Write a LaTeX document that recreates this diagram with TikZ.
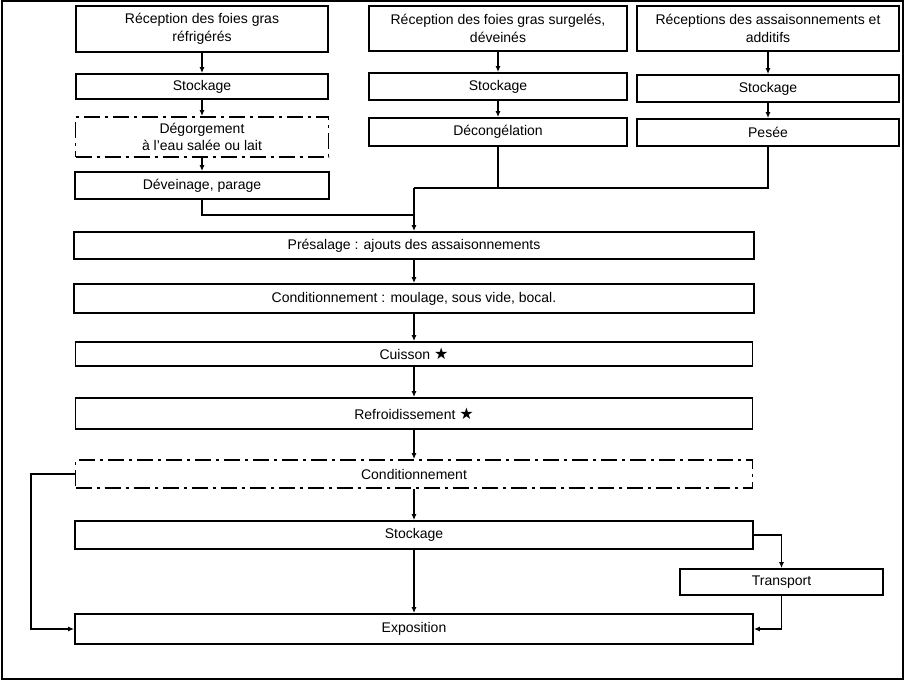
\documentclass[tikz,border=0pt]{standalone}
\usepackage{fontspec}
\setmainfont{Liberation Sans}
\newfontfamily\symfont{DejaVu Sans}
\usetikzlibrary{arrows.meta, positioning}

\begin{document}
\begin{tikzpicture}[
    x=1pt, y=-1pt,
    every node/.style={font=\fontsize{14}{17.5}\selectfont},
    etape/.style={draw, line width=1.8pt, inner sep=0pt, align=center},
    option/.style={etape, dash pattern=on 16pt off 5pt on 3pt off 5pt},
    fleche/.style={-{Latex[length=6pt,width=5pt]}, line width=1.4pt},
    trait/.style={line width=1.4pt}
]
\useasboundingbox (0,0) rectangle (908,682);
\draw[line width=2pt] (1.5,1.5) rectangle (903,678.5);

% three reception columns
\node[etape, minimum width=252pt, minimum height=46pt] (recA) at (202,29) {Réception des foies gras\\réfrigérés};
\node[etape, minimum width=258pt, minimum height=45pt] (recB) at (498,28.5) {Réception des foies gras surgelés,\\déveinés};
\node[etape, minimum width=262pt, minimum height=45pt] (recC) at (768,28.5) {Réceptions des assaisonnements et\\additifs};

\node[etape, minimum width=252pt, minimum height=25pt] (stockA) at (202,86.5) {Stockage};
\node[etape, minimum width=258pt, minimum height=27pt] (stockB) at (498,86.5) {Stockage};
\node[etape, minimum width=262pt, minimum height=27pt] (stockC) at (768,88.5) {Stockage};

\node[option, minimum width=253pt, minimum height=40pt] (degorg) at (202,137) {Dégorgement\\à l’eau salée ou lait};
\node[etape, minimum width=258pt, minimum height=28pt] (decong) at (498,132) {Décongélation};
\node[etape, minimum width=262pt, minimum height=27pt] (pesee) at (768,132.5) {Pesée};
\node[etape, minimum width=254pt, minimum height=27pt] (devein) at (202,185.5) {\raisebox{3pt}{Déveinage, parage}};

% main line
\node[etape, minimum width=680pt, minimum height=27pt] (presal) at (414,245.5) {Présalage : ajouts des assaisonnements};
\node[etape, minimum width=680pt, minimum height=29pt] (condA) at (414,298.5) {Conditionnement : moulage, sous vide, bocal.};
\node[etape, minimum width=677pt, minimum height=24pt] (cuisson) at (414,354) {Cuisson {\symfont\fontsize{16}{16}\selectfont ★}};
\node[etape, minimum width=677pt, minimum height=31pt] (refroid) at (414,413.5) {Refroidissement {\symfont\fontsize{16}{16}\selectfont ★}};
\node[option, minimum width=677pt, minimum height=28pt] (condB) at (414,474) {Conditionnement};
\node[etape, minimum width=678pt, minimum height=28pt] (stockD) at (414,535) {Stockage};
\node[etape, minimum width=203pt, minimum height=26pt] (transp) at (781.5,582) {Transport};
\node[etape, minimum width=678pt, minimum height=30pt] (expo) at (414,629) {Exposition};

\coordinate (j1) at (414,188);
\coordinate (j2) at (414,215);
\coordinate (retour) at (31,474);

\draw[fleche] (recA) -- (stockA);
\draw[fleche] (stockA) -- (degorg);
\draw[fleche] (degorg) -- (devein);
\draw[fleche] (recB) -- (stockB);
\draw[fleche] (stockB) -- (decong);
\draw[fleche] (recC) -- (stockC);
\draw[fleche] (stockC) -- (pesee);

\draw[trait] (devein.south) |- (j2);
\draw[trait] (decong.south) |- (j1);
\draw[trait] (pesee.south) |- (j1);
\draw[fleche] (j1) -- (presal.north);

\draw[fleche] (presal) -- (condA);
\draw[fleche] (condA) -- (cuisson);
\draw[fleche] (cuisson) -- (refroid);
\draw[fleche] (refroid) -- (condB);
\draw[fleche] (condB) -- (stockD);
\draw[fleche] (stockD) -- (expo);
\draw[fleche] (stockD.east) -| (transp.north);
\draw[fleche] (transp.south) |- (expo.east);
\draw[fleche] (condB.west) -- (retour) |- (expo.west);
\end{tikzpicture}
\end{document}
